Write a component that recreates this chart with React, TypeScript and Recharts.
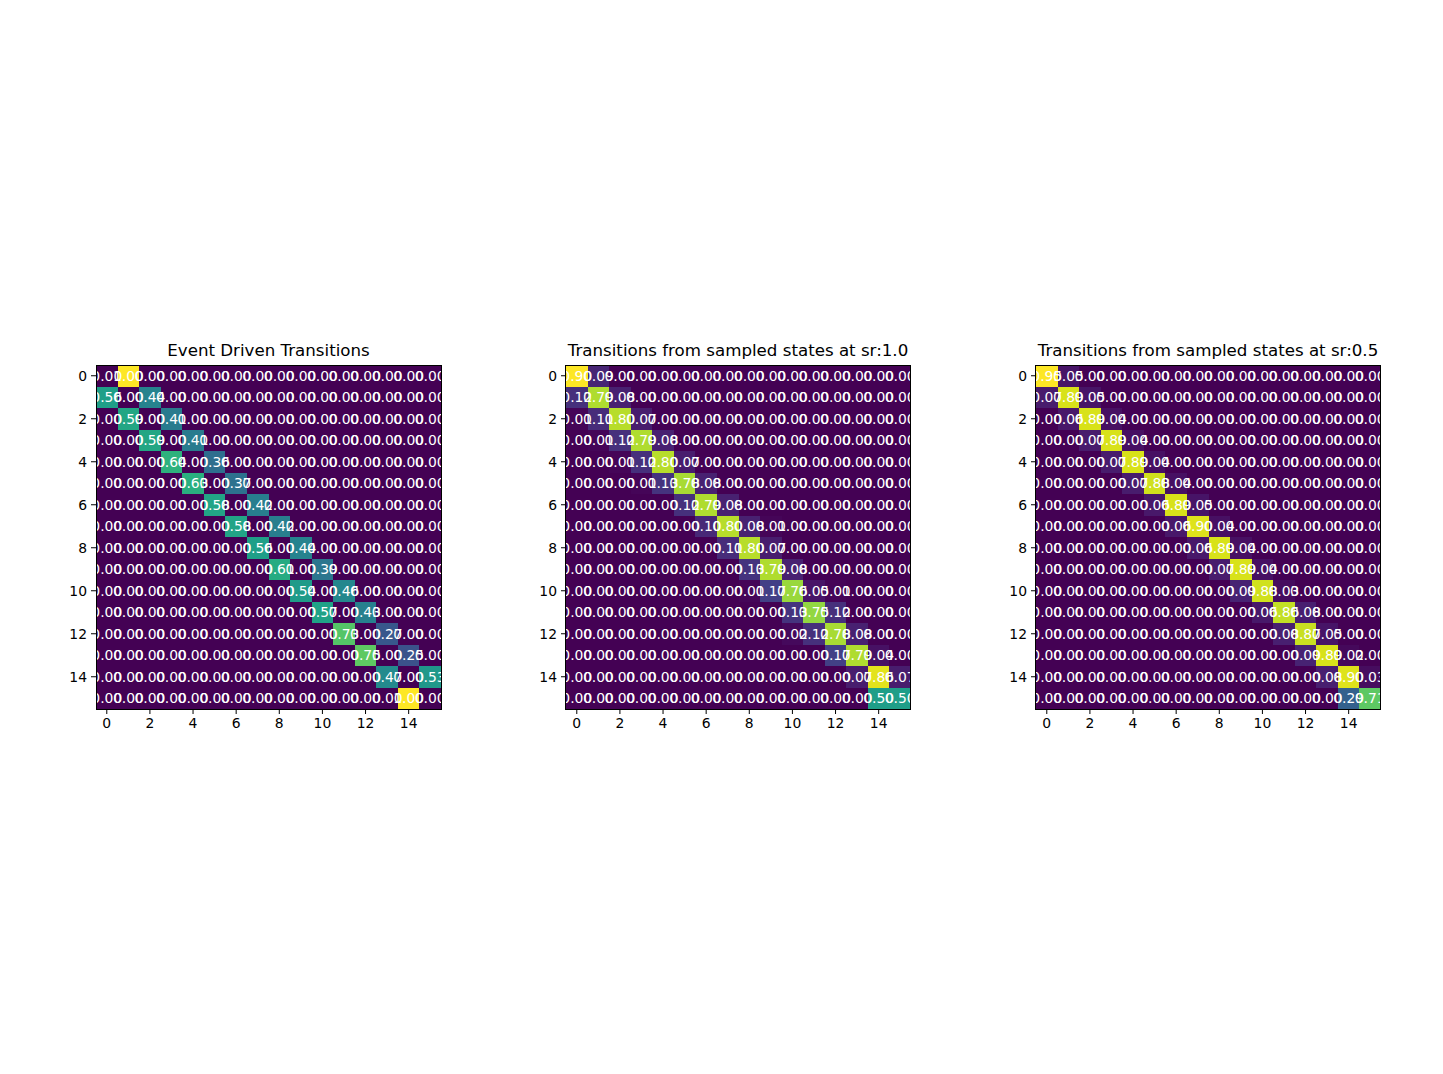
import { Scatter, ScatterChart, XAxis, YAxis } from "recharts";

// transition matrices, rows = from state, cols = to state
const eventDriven: number[][] = [
  [0, 1.0, 0, 0, 0, 0, 0, 0, 0, 0, 0, 0, 0, 0, 0, 0],
  [0.56, 0, 0.44, 0, 0, 0, 0, 0, 0, 0, 0, 0, 0, 0, 0, 0],
  [0, 0.59, 0, 0.41, 0, 0, 0, 0, 0, 0, 0, 0, 0, 0, 0, 0],
  [0, 0, 0.59, 0, 0.41, 0, 0, 0, 0, 0, 0, 0, 0, 0, 0, 0],
  [0, 0, 0, 0.64, 0, 0.36, 0, 0, 0, 0, 0, 0, 0, 0, 0, 0],
  [0, 0, 0, 0, 0.63, 0, 0.37, 0, 0, 0, 0, 0, 0, 0, 0, 0],
  [0, 0, 0, 0, 0, 0.58, 0, 0.42, 0, 0, 0, 0, 0, 0, 0, 0],
  [0, 0, 0, 0, 0, 0, 0.58, 0, 0.42, 0, 0, 0, 0, 0, 0, 0],
  [0, 0, 0, 0, 0, 0, 0, 0.56, 0, 0.44, 0, 0, 0, 0, 0, 0],
  [0, 0, 0, 0, 0, 0, 0, 0, 0.61, 0, 0.39, 0, 0, 0, 0, 0],
  [0, 0, 0, 0, 0, 0, 0, 0, 0, 0.54, 0, 0.46, 0, 0, 0, 0],
  [0, 0, 0, 0, 0, 0, 0, 0, 0, 0, 0.57, 0, 0.43, 0, 0, 0],
  [0, 0, 0, 0, 0, 0, 0, 0, 0, 0, 0, 0.73, 0, 0.27, 0, 0],
  [0, 0, 0, 0, 0, 0, 0, 0, 0, 0, 0, 0, 0.75, 0, 0.25, 0],
  [0, 0, 0, 0, 0, 0, 0, 0, 0, 0, 0, 0, 0, 0.47, 0, 0.53],
  [0, 0, 0, 0, 0, 0, 0, 0, 0, 0, 0, 0, 0, 0, 1.0, 0],
];

const sampledSr10: number[][] = [
  [0.9, 0.09, 0, 0, 0, 0, 0, 0, 0, 0, 0, 0, 0, 0, 0, 0],
  [0.12, 0.79, 0.08, 0, 0, 0, 0, 0, 0, 0, 0, 0, 0, 0, 0, 0],
  [0.01, 0.11, 0.8, 0.07, 0, 0, 0, 0, 0, 0, 0, 0, 0, 0, 0, 0],
  [0, 0.01, 0.12, 0.79, 0.08, 0, 0, 0, 0, 0, 0, 0, 0, 0, 0, 0],
  [0, 0, 0.01, 0.12, 0.8, 0.07, 0, 0, 0, 0, 0, 0, 0, 0, 0, 0],
  [0, 0, 0, 0.01, 0.13, 0.78, 0.08, 0, 0, 0, 0, 0, 0, 0, 0, 0],
  [0, 0, 0, 0, 0, 0.12, 0.79, 0.08, 0, 0, 0, 0, 0, 0, 0, 0],
  [0, 0, 0, 0, 0, 0, 0.1, 0.8, 0.08, 0.01, 0, 0, 0, 0, 0, 0],
  [0, 0, 0, 0, 0, 0, 0, 0.11, 0.8, 0.07, 0, 0, 0, 0, 0, 0],
  [0, 0, 0, 0, 0, 0, 0, 0, 0.13, 0.79, 0.08, 0, 0, 0, 0, 0],
  [0, 0, 0, 0, 0, 0, 0, 0, 0.01, 0.17, 0.76, 0.05, 0.01, 0, 0, 0],
  [0, 0, 0, 0, 0, 0, 0, 0, 0, 0, 0.13, 0.75, 0.12, 0, 0, 0],
  [0, 0, 0, 0, 0, 0, 0, 0, 0, 0, 0.02, 0.12, 0.78, 0.08, 0, 0],
  [0, 0, 0, 0, 0, 0, 0, 0, 0, 0, 0, 0, 0.17, 0.79, 0.04, 0],
  [0, 0, 0, 0, 0, 0, 0, 0, 0, 0, 0, 0, 0, 0.07, 0.86, 0.07],
  [0, 0, 0, 0, 0, 0, 0, 0, 0, 0, 0, 0, 0, 0, 0.5, 0.5],
];

const sampledSr05: number[][] = [
  [0.95, 0.05, 0, 0, 0, 0, 0, 0, 0, 0, 0, 0, 0, 0, 0, 0],
  [0.07, 0.89, 0.05, 0, 0, 0, 0, 0, 0, 0, 0, 0, 0, 0, 0, 0],
  [0, 0.06, 0.89, 0.04, 0, 0, 0, 0, 0, 0, 0, 0, 0, 0, 0, 0],
  [0, 0, 0.07, 0.89, 0.04, 0, 0, 0, 0, 0, 0, 0, 0, 0, 0, 0],
  [0, 0, 0, 0.07, 0.89, 0.04, 0, 0, 0, 0, 0, 0, 0, 0, 0, 0],
  [0, 0, 0, 0, 0.07, 0.88, 0.04, 0, 0, 0, 0, 0, 0, 0, 0, 0],
  [0, 0, 0, 0, 0, 0.06, 0.89, 0.05, 0, 0, 0, 0, 0, 0, 0, 0],
  [0, 0, 0, 0, 0, 0, 0.06, 0.9, 0.04, 0, 0, 0, 0, 0, 0, 0],
  [0, 0, 0, 0, 0, 0, 0, 0.06, 0.89, 0.04, 0, 0, 0, 0, 0, 0],
  [0, 0, 0, 0, 0, 0, 0, 0, 0.07, 0.89, 0.04, 0, 0, 0, 0, 0],
  [0, 0, 0, 0, 0, 0, 0, 0, 0, 0.09, 0.88, 0.03, 0, 0, 0, 0],
  [0, 0, 0, 0, 0, 0, 0, 0, 0, 0, 0.06, 0.86, 0.08, 0, 0, 0],
  [0, 0, 0, 0, 0, 0, 0, 0, 0, 0, 0, 0.08, 0.87, 0.05, 0, 0],
  [0, 0, 0, 0, 0, 0, 0, 0, 0, 0, 0, 0, 0.09, 0.89, 0.02, 0],
  [0, 0, 0, 0, 0, 0, 0, 0, 0, 0, 0, 0, 0, 0.08, 0.9, 0.03],
  [0, 0, 0, 0, 0, 0, 0, 0, 0, 0, 0, 0, 0, 0, 0.29, 0.71],
];

const titles = [
  "Event Driven Transitions",
  "Transitions from sampled states at sr:1.0",
  "Transitions from sampled states at sr:0.5",
];
const tickValues = [0, 2, 4, 6, 8, 10, 12, 14];

const viridis = [
  "#440154", "#48186a", "#472d7b", "#424086", "#3b528b", "#33638d",
  "#2c728e", "#26828e", "#21918c", "#1fa088", "#28ae80", "#3fbc73",
  "#5ec962", "#84d44b", "#addc30", "#d8e219", "#fde725",
];

function hex(c: string) {
  return [1, 3, 5].map((i) => parseInt(c.slice(i, i + 2), 16));
}

function colorAt(t: number): string {
  const p = Math.max(0, Math.min(1, t)) * (viridis.length - 1);
  const i = Math.min(Math.floor(p), viridis.length - 2);
  const f = p - i;
  const a = hex(viridis[i]);
  const b = hex(viridis[i + 1]);
  const rgb = a.map((v, k) => Math.round(v + (b[k] - v) * f));
  return `rgb(${rgb.join(",")})`;
}

const FONT = "'DejaVu Sans', sans-serif";
const PLOT_TOP = 365;
const PLOT_W = 345;
const PLOT_H = 344;
const CELL_W = PLOT_W / 16;
const CELL_H = PLOT_H / 16;
const plotLefts = [96, 565.5, 1035.5];

// chart frame around the plot area
const ML = 20;
const YW = 30;
const MT = 10;
const MR = 10;
const MB = 5;
const XH = 30;

const tickStyle = { fill: "#000", fontSize: 13.9, fontFamily: FONT };

function Heatmap({ title, matrix, plotLeft }: { title: string; matrix: number[][]; plotLeft: number }) {
  const max = Math.max(...matrix.flat());
  const cells = matrix.flatMap((row, r) => row.map((v, c) => ({ x: c, y: r, v })));

  const rectShape = (props: any) => (
    <rect
      x={props.cx - CELL_W / 2}
      y={props.cy - CELL_H / 2}
      width={CELL_W + 0.5}
      height={CELL_H + 0.5}
      fill={colorAt(props.payload.v / max)}
      shapeRendering="crispEdges"
    />
  );
  const labelShape = (props: any) => (
    <text
      x={props.cx}
      y={props.cy}
      dy="0.36em"
      textAnchor="middle"
      fill="#fff"
      fontSize={13.9}
      fontFamily={FONT}
    >
      {props.payload.v.toFixed(2)}
    </text>
  );

  return (
    <>
      <div
        style={{
          position: "absolute",
          left: plotLeft - 100,
          width: PLOT_W + 200,
          top: 343,
          textAlign: "center",
          fontFamily: FONT,
          fontSize: 16.67,
          lineHeight: "16.67px",
          color: "#000",
          whiteSpace: "nowrap",
        }}
      >
        {title}
      </div>
      <div style={{ position: "absolute", left: plotLeft - ML - YW, top: PLOT_TOP - MT }}>
        <ScatterChart
          width={ML + YW + PLOT_W + MR}
          height={MT + PLOT_H + MB + XH}
          margin={{ top: MT, right: MR, bottom: MB, left: ML }}
        >
          <XAxis
            type="number"
            dataKey="x"
            domain={[-0.5, 15.5]}
            ticks={tickValues}
            allowDataOverflow
            interval={0}
            height={XH}
            axisLine={false}
            tickLine={{ stroke: "#000", strokeWidth: 1 }}
            tickSize={5}
            tickMargin={4}
            tick={tickStyle}
          />
          <YAxis
            type="number"
            dataKey="y"
            domain={[-0.5, 15.5]}
            reversed
            ticks={tickValues}
            allowDataOverflow
            interval={0}
            width={YW}
            axisLine={false}
            tickLine={{ stroke: "#000", strokeWidth: 1 }}
            tickSize={5}
            tickMargin={4}
            tick={tickStyle}
          />
          <Scatter data={cells} shape={rectShape} isAnimationActive={false} />
          <Scatter data={cells} shape={labelShape} isAnimationActive={false} />
        </ScatterChart>
      </div>
      <div
        style={{
          position: "absolute",
          left: plotLeft - 0.5,
          top: PLOT_TOP - 0.5,
          width: PLOT_W + 1,
          height: PLOT_H + 1,
          boxSizing: "border-box",
          border: "1px solid #000",
          pointerEvents: "none",
        }}
      />
    </>
  );
}

export default function App() {
  const matrices = [eventDriven, sampledSr10, sampledSr05];
  return (
    <div style={{ position: "absolute", left: 0, top: 0, width: 1443, height: 1074, background: "#fff" }}>
      {matrices.map((m, i) => (
        <Heatmap key={i} title={titles[i]} matrix={m} plotLeft={plotLefts[i]} />
      ))}
    </div>
  );
}
